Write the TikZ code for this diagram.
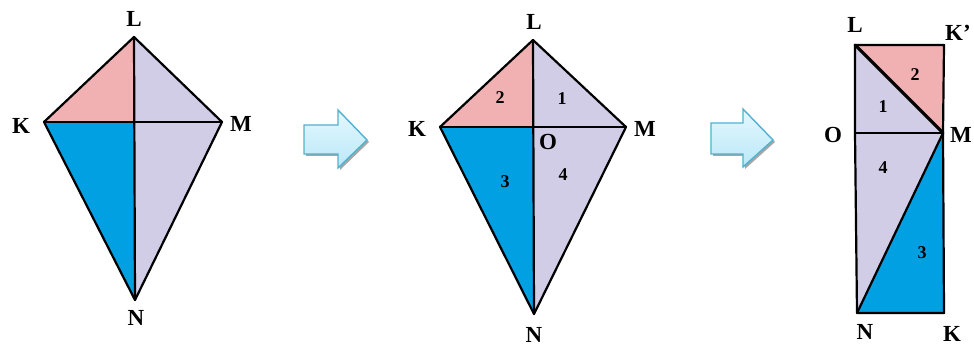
\documentclass[tikz,border=0pt]{standalone}
\usepackage{fontspec}
\setmainfont{Liberation Serif}
\definecolor{pinkc}{RGB}{241,176,178}
\definecolor{lavc}{RGB}{209,205,230}
\definecolor{bluec}{RGB}{0,160,226}
\definecolor{arrowline}{RGB}{80,178,208}
\definecolor{arrowtop}{RGB}{228,248,254}
\definecolor{arrowbot}{RGB}{186,232,248}
\tikzset{
  edge/.style={draw=black, line width=2.2pt, line join=round, line cap=round},
  thickedge/.style={draw=black, line width=3.2pt, line join=round, line cap=round},
  vlabel/.style={font=\bfseries\fontsize{23}{23}\selectfont, inner sep=0pt},
  nlabel/.style={font=\bfseries\fontsize{18}{18}\selectfont, inner sep=0pt},
  blockarrow/.style={draw=arrowline, line width=1.4pt, top color=arrowtop, bottom color=arrowbot, line join=miter},
  arrowshadow/.style={fill=black!35}
}
\begin{document}
\begin{tikzpicture}[x=1pt,y=-1pt]
\useasboundingbox (0,0) rectangle (974,347);
% ---------- Figure 1 ----------
\coordinate (L1) at (134,37);
\coordinate (K1) at (44,122);
\coordinate (M1) at (222,122);
\coordinate (N1) at (135,300);
\coordinate (O1) at (134,122);
\fill[pinkc] (K1) -- (L1) -- (O1) -- cycle;
\fill[lavc] (L1) -- (M1) -- (N1) -- (O1) -- cycle;
\fill[bluec] (K1) -- (O1) -- (N1) -- cycle;
\draw[edge] (L1) -- (M1) -- (N1) -- (K1) -- cycle;
\draw[edge] (L1) -- (N1);
\draw[edge] (K1) -- (M1);
\node[vlabel] (tL1) at (134,19) {L};
\node[vlabel] (tK1) at (21,126) {K};
\node[vlabel] (tM1) at (241,124) {M};
\node[vlabel] (tN1) at (136,318) {N};
% ---------- Arrow 1 ----------
\fill[arrowshadow] (306,127) -- (340,127) -- (340,112) -- (369,142) -- (340,170) -- (340,156) -- (306,156) -- cycle;
\draw[blockarrow] (304,125) -- (338,125) -- (338,110) -- (367,140) -- (338,168) -- (338,154) -- (304,154) -- cycle;
% ---------- Figure 2 ----------
\coordinate (L2) at (533,40);
\coordinate (K2) at (440,127);
\coordinate (M2) at (626,127);
\coordinate (N2) at (534,314);
\coordinate (O2) at (533,127);
\fill[pinkc] (K2) -- (L2) -- (O2) -- cycle;
\fill[lavc] (L2) -- (M2) -- (N2) -- (O2) -- cycle;
\fill[bluec] (K2) -- (O2) -- (N2) -- cycle;
\draw[edge] (L2) -- (M2) -- (N2) -- (K2) -- cycle;
\draw[edge] (L2) -- (N2);
\draw[edge] (K2) -- (M2);
\node[vlabel] (tL2) at (534,22) {L};
\node[vlabel] (tK2) at (417,129) {K};
\node[vlabel] (tM2) at (645,129) {M};
\node[vlabel] (tN2) at (534,335) {N};
\node[vlabel] (tO2) at (548,142) {O};
\node[nlabel] (n2a) at (500,98) {2};
\node[nlabel] (n1a) at (562,99) {1};
\node[nlabel] (n3a) at (505,182) {3};
\node[nlabel] (n4a) at (563,175) {4};
% ---------- Arrow 2 ----------
\fill[arrowshadow] (713,125) -- (745,125) -- (745,111) -- (775,142) -- (745,169) -- (745,156) -- (713,156) -- cycle;
\draw[blockarrow] (711,123) -- (743,123) -- (743,109) -- (773,140) -- (743,167) -- (743,154) -- (711,154) -- cycle;
% ---------- Figure 3 ----------
\coordinate (L3) at (855,45);
\coordinate (Kp3) at (944,45);
\coordinate (M3) at (943,133);
\coordinate (O3) at (855,133);
\coordinate (N3) at (857,313);
\coordinate (K3) at (944,313);
\fill[pinkc] (L3) -- (Kp3) -- (M3) -- cycle;
\fill[lavc] (L3) -- (M3) -- (O3) -- cycle;
\fill[lavc] (O3) -- (M3) -- (N3) -- cycle;
\fill[bluec] (M3) -- (K3) -- (N3) -- cycle;
\draw[edge] (L3) -- (Kp3) -- (M3) -- (K3) -- (N3) -- (O3) -- cycle;
\draw[edge] (O3) -- (M3);
\draw[edge] (M3) -- (N3);
\draw[thickedge] (L3) -- (M3);
\node[vlabel] (tL3) at (855,25) {L};
\node[vlabel] (tKp3) at (958,33) {K’};
\node[vlabel] (tO3) at (833,135) {O};
\node[vlabel] (tM3) at (961,135) {M};
\node[vlabel] (tN3) at (865,332) {N};
\node[vlabel] (tK3) at (952,334) {K};
\node[nlabel] (n2b) at (915,75) {2};
\node[nlabel] (n1b) at (883,107) {1};
\node[nlabel] (n4b) at (883,168) {4};
\node[nlabel] (n3b) at (922,253) {3};
\end{tikzpicture}
\end{document}
